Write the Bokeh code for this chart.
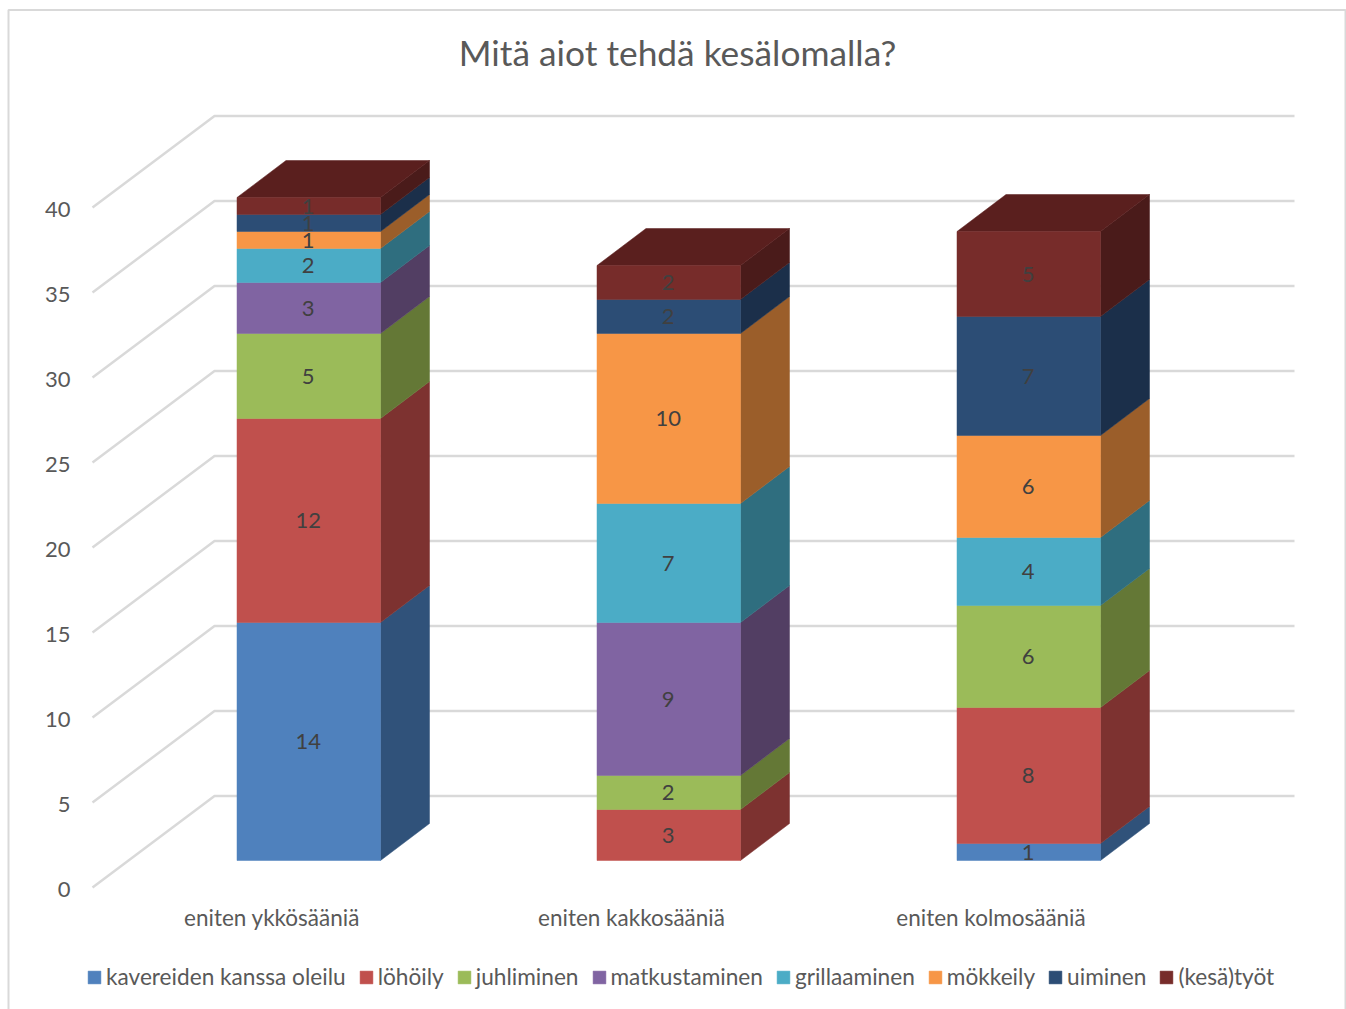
from bokeh.plotting import figure
from bokeh.embed import file_html
from bokeh.resources import INLINE
from bokeh.core.properties import value
from bokeh.models import Range1d, LinearAxis, FixedTicker, Legend, LegendItem

TITLE = "Mitä aiot tehdä kesälomalla?"
categories = ["eniten ykkösääniä", "eniten kakkosääniä", "eniten kolmosääniä"]
series_names = ["kavereiden kanssa oleilu", "löhöily", "juhliminen", "matkustaminen",
                "grillaaminen", "mökkeily", "uiminen", "(kesä)työt"]
kavereiden = [14, 0, 1]
lohoily = [12, 3, 8]
juhliminen = [5, 2, 6]
matkustaminen = [3, 9, 0]
grillaaminen = [2, 7, 4]
mokkeily = [1, 10, 6]
uiminen = [1, 2, 7]
tyot = [1, 2, 5]
y_ticks = [0, 5, 10, 15, 20, 25, 30, 35, 40]

all_series = [kavereiden, lohoily, juhliminen, matkustaminen, grillaaminen, mokkeily, uiminen, tyot]
front_colors = ["#4F81BD", "#C0504D", "#9BBB59", "#8064A2", "#4BACC6", "#F79646", "#2C4D75", "#772C2A"]
side_colors = ["#30527A", "#7D3230", "#647836", "#523E63", "#2F6E7F", "#9B5E2A", "#1B2F4A", "#4A1B1A"]
top_color = "#5A1F1E"
GRID = "#D9D9D9"
TEXT = "#595959"
LABEL = "#404040"
FONT = "Lato"

W, H = 1346, 1009
UNIT = 17.0            # px per value unit
BASE = 860             # frame px of value 0 at the bar's front
def vy(px):            # frame px (from top) -> value coordinate
    return (BASE - px) / UNIT

p = figure(width=W, height=H, output_backend="svg", toolbar_location=None,
           x_range=Range1d(0, W), y_range=Range1d(vy(H), vy(0)),
           x_axis_type=None, y_axis_type=None, min_border=0, outline_line_color=None)

# chart frame
p.line([8, 8, 1345, 1345], [vy(H), vy(9.5), vy(9.5), vy(H)], line_color=GRID, line_width=2)

# gridlines: floor/wall
front_drop = 27 / UNIT
back_rise = 64.5 / UNIT
gx0, gx1, gx2 = 92, 214, 1294
for t in y_ticks:
    p.line([gx0, gx1, gx2], [t - front_drop, t + back_rise, t + back_rise],
           line_color=GRID, line_width=2.5)

# bars
bar_w = 143.5
depth_x = 49
depth_y = 37 / UNIT
lefts = [236.5 + 360 * i for i in range(len(categories))]
for i, left in enumerate(lefts):
    bottom = 0
    right = left + bar_w
    for s, vals in enumerate(all_series):
        v = vals[i]
        if v == 0:
            continue
        top = bottom + v
        p.patch([right, right + depth_x, right + depth_x, right],
                [bottom, bottom + depth_y, top + depth_y, top],
                fill_color=side_colors[s], line_color=side_colors[s], line_width=0.5)
        bottom = top
    p.patch([left, left + depth_x, right + depth_x, right],
            [bottom, bottom + depth_y, bottom + depth_y, bottom],
            fill_color=top_color, line_color=top_color, line_width=0.5)

legend_rs = {}
label_x, label_y, label_t = [], [], []
for i, left in enumerate(lefts):
    bottom = 0
    for s, vals in enumerate(all_series):
        v = vals[i]
        if v == 0:
            continue
        r = p.quad(left=left, right=left + bar_w, bottom=bottom, top=bottom + v,
                   fill_color=front_colors[s], line_color=front_colors[s], line_width=0.5)
        legend_rs.setdefault(s, r)
        label_x.append(left + bar_w / 2 - 0.5)
        label_y.append(bottom + v / 2)
        label_t.append(str(v))
        bottom += v

p.text(label_x, label_y, text=label_t, text_font=value(FONT), text_font_size="22px",
       text_color=LABEL, text_align="center", text_baseline="middle")

p.text([677], [vy(51.5)], text=[TITLE], text_font=value(FONT), text_font_size="35.3px",
       text_color=TEXT, text_align="center", text_baseline="middle")

# axes
tick_shift = -2 / UNIT
p.extra_y_ranges["ticks"] = Range1d(vy(H) + front_drop - tick_shift, vy(0) + front_drop - tick_shift)
yax = LinearAxis(y_range_name="ticks", ticker=FixedTicker(ticks=y_ticks), fixed_location=74,
                 axis_line_color=None, major_tick_line_color=None, minor_tick_line_color=None,
                 major_tick_in=0, major_tick_out=0, major_label_standoff=4,
                 major_label_text_font=FONT, major_label_text_font_size="22px",
                 major_label_text_color=TEXT)
p.add_layout(yax, "left")

xticks = [271.5 + 359.5 * i for i in range(len(categories))]
xax = LinearAxis(ticker=FixedTicker(ticks=xticks), fixed_location=vy(903),
                 major_label_overrides={t: c for t, c in zip(xticks, categories)},
                 axis_line_color=None, major_tick_line_color=None, minor_tick_line_color=None,
                 major_tick_in=0, major_tick_out=0, major_label_standoff=0,
                 major_label_text_font=FONT, major_label_text_font_size="22.5px",
                 major_label_text_color=TEXT)
p.add_layout(xax, "below")

legend = Legend(items=[LegendItem(label=n, renderers=[legend_rs[s]]) for s, n in enumerate(series_names)],
                orientation="horizontal", location=(86, H - 974 - 16), padding=0, margin=0,
                spacing=12, glyph_width=16, glyph_height=16, label_standoff=4,
                border_line_color=None, background_fill_alpha=0,
                label_text_font=FONT, label_text_font_size="22.65px", label_text_color=TEXT,
                label_height=16)
p.add_layout(legend, "center")

open("out.html", "w").write(file_html(p, INLINE))
